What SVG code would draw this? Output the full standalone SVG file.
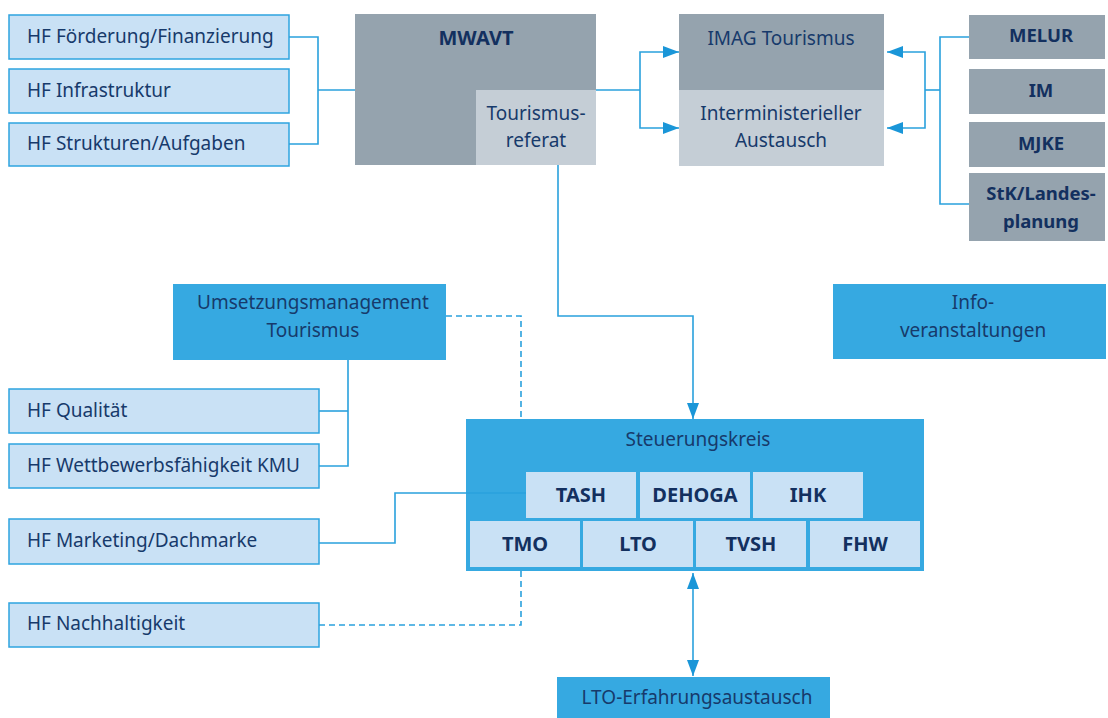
<svg xmlns="http://www.w3.org/2000/svg" width="1108" height="718" viewBox="0 0 1108 718">
<defs>
<style>
.hf{fill:#c9e1f5;stroke:#2ea4df;stroke-width:1.5}
.mid{fill:#36a9e1}
.gray{fill:#95a3ae}
.lgray{fill:#c5ced6}
.lb{fill:#c9e1f5}
.t{font-family:"Noto Sans","Liberation Sans",sans-serif;font-size:19px;fill:#173a6b}
.b{font-family:"Noto Sans","Liberation Sans",sans-serif;font-size:18.5px;font-weight:bold;fill:#13305f}
.b2{font-family:"Noto Sans","Liberation Sans",sans-serif;font-size:20px;font-weight:bold;fill:#13305f}
.c{text-anchor:middle}
.ln{fill:none;stroke:#2aa1dd;stroke-width:1.6}
.dash{fill:none;stroke:#2aa1dd;stroke-width:1.6;stroke-dasharray:6,4}
</style>
<marker id="ah" viewBox="0 0 16 12" refX="16" refY="6" markerWidth="16" markerHeight="12" markerUnits="userSpaceOnUse" orient="auto-start-reverse">
<path d="M0,0 L16,6 L0,12 Z" fill="#1a96d8"/>
</marker>
</defs>
<rect width="1108" height="718" fill="#ffffff"/>

<g id="hf-foerderung"><rect class="hf" x="9" y="15" width="280" height="44"/><text class="t" x="27" y="43">HF Förderung/Finanzierung</text></g>
<g id="hf-infrastruktur"><rect class="hf" x="9" y="69" width="280" height="44"/><text class="t" x="27" y="97">HF Infrastruktur</text></g>
<g id="hf-strukturen"><rect class="hf" x="9" y="123" width="280" height="43"/><text class="t" x="27" y="150">HF Strukturen/Aufgaben</text></g>

<g id="mwavt">
<rect class="gray" x="355" y="14" width="241" height="151"/>
<text class="b2 c" x="476" y="45">MWAVT</text>
</g>
<g id="tourismusreferat">
<rect class="lgray" x="476" y="90" width="120" height="75"/>
<text class="t c" x="536" y="120">Tourismus-</text>
<text class="t c" x="536" y="147">referat</text>
</g>

<g id="imag">
<rect class="gray" x="679" y="14" width="205" height="76"/>
<text class="t c" x="781" y="45">IMAG Tourismus</text>
</g>
<g id="interministeriell">
<rect class="lgray" x="679" y="90" width="205" height="76"/>
<text class="t c" x="781" y="120">Interministerieller</text>
<text class="t c" x="781" y="147">Austausch</text>
</g>

<g id="melur"><rect class="gray" x="969" y="15" width="136" height="44"/><text class="b c" x="1041" y="42">MELUR</text></g>
<g id="im"><rect class="gray" x="969" y="69" width="136" height="45"/><text class="b c" x="1041" y="97">IM</text></g>
<g id="mjke"><rect class="gray" x="969" y="122" width="136" height="45"/><text class="b c" x="1041" y="150">MJKE</text></g>
<g id="stk"><rect class="gray" x="969" y="173" width="136" height="68"/><text class="b c" x="1041" y="200">StK/Landes-</text><text class="b c" x="1041" y="228">planung</text></g>

<g id="umsetzung">
<rect class="mid" x="173" y="284" width="273" height="76"/>
<text class="t c" x="313" y="309">Umsetzungsmanagement</text>
<text class="t c" x="313" y="337">Tourismus</text>
</g>
<g id="info">
<rect class="mid" x="833" y="284" width="273" height="75"/>
<text class="t c" x="973" y="309">Info-</text>
<text class="t c" x="973" y="337">veranstaltungen</text>
</g>

<g id="hf-qualitaet"><rect class="hf" x="9" y="389" width="310" height="44"/><text class="t" x="27" y="417">HF Qualität</text></g>
<g id="hf-wettbewerb"><rect class="hf" x="9" y="444" width="310" height="44"/><text class="t" x="27" y="472">HF Wettbewerbsfähigkeit KMU</text></g>
<g id="hf-marketing"><rect class="hf" x="9" y="519" width="310" height="45"/><text class="t" x="27" y="547">HF Marketing/Dachmarke</text></g>
<g id="hf-nachhaltigkeit"><rect class="hf" x="9" y="603" width="310" height="44"/><text class="t" x="27" y="630">HF Nachhaltigkeit</text></g>

<g id="steuerungskreis">
<rect class="mid" x="466" y="419" width="458" height="152"/>
<text class="t c" x="698" y="446">Steuerungskreis</text>
</g>
<g id="tash"><rect class="lb" x="526" y="472" width="110" height="46"/><text class="b2 c" x="581" y="502">TASH</text></g>
<g id="dehoga"><rect class="lb" x="640" y="472" width="110" height="46"/><text class="b2 c" x="695" y="502">DEHOGA</text></g>
<g id="ihk"><rect class="lb" x="753" y="472" width="110" height="46"/><text class="b2 c" x="808" y="502">IHK</text></g>
<g id="tmo"><rect class="lb" x="470" y="521" width="110" height="46"/><text class="b2 c" x="525" y="551">TMO</text></g>
<g id="lto"><rect class="lb" x="583" y="521" width="110" height="46"/><text class="b2 c" x="638" y="551">LTO</text></g>
<g id="tvsh"><rect class="lb" x="696" y="521" width="110" height="46"/><text class="b2 c" x="751" y="551">TVSH</text></g>
<g id="fhw"><rect class="lb" x="810" y="521" width="110" height="46"/><text class="b2 c" x="865" y="551">FHW</text></g>

<g id="lto-erfahrung">
<rect class="mid" x="557" y="677" width="273" height="41"/>
<text class="t c" x="697" y="704">LTO-Erfahrungsaustausch</text>
</g>

<g id="connectors">
<polyline class="ln" points="289,37 318,37 318,144 289,144"/>
<line class="ln" x1="318" y1="90" x2="355" y2="90"/>
<line class="ln" x1="596" y1="90" x2="640" y2="90"/>
<polyline class="ln" points="679,52 640,52 640,128 679,128" marker-start="url(#ah)" marker-end="url(#ah)"/>
<polyline class="ln" points="887,52 925,52 925,128 887,128" marker-start="url(#ah)" marker-end="url(#ah)"/>
<line class="ln" x1="925" y1="90" x2="940" y2="90"/>
<polyline class="ln" points="969,37 940,37 940,204 969,204"/>
<polyline class="ln" points="558,165 558,316 693,316 693,419" marker-end="url(#ah)"/>
<polyline class="ln" points="348,360 348,466 319,466"/>
<line class="ln" x1="348" y1="411" x2="319" y2="411"/>
<polyline class="ln" points="526,493 395,493 395,543 319,543"/>
<polyline class="dash" points="446,316 521,316 521,419"/>
<polyline class="dash" points="521,571 521,625 319,625"/>
<line class="ln" x1="693" y1="573" x2="693" y2="676" marker-start="url(#ah)" marker-end="url(#ah)"/>
</g>
</svg>
